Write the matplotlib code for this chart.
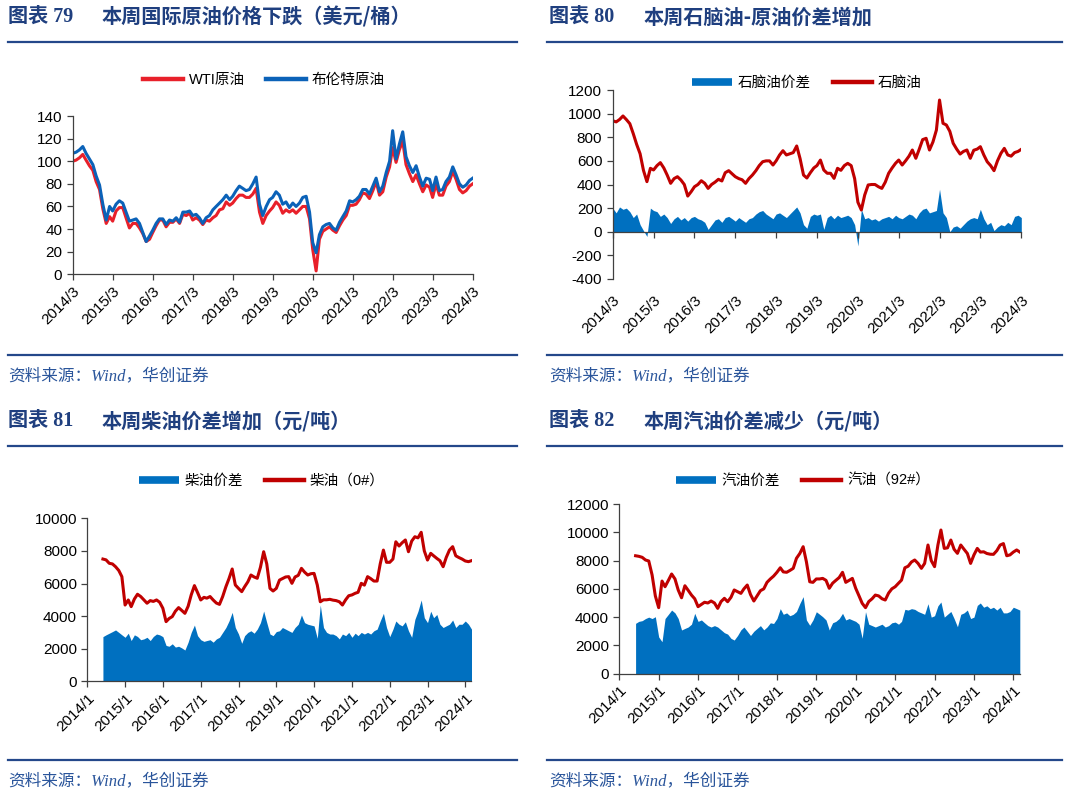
import matplotlib
matplotlib.use('Agg')
import matplotlib.pyplot as plt
from matplotlib.lines import Line2D
import pandas as pd

plt.rcParams['font.family'] = ['Liberation Sans', 'Noto Sans CJK SC']
plt.rcParams['axes.unicode_minus'] = False

# ---------------- data ----------------
# Chart 79: monthly, 2014/3 .. 2024/3 (USD/bbl)
crude_start, crude_end = '2014-03-01', '2024-03-01'
wti = [100, 101, 103, 106, 101, 96, 92, 82, 75, 58,
       45, 51, 47, 56, 59, 59, 50, 41, 45, 45, 41, 36,
       29, 31, 37, 43, 48, 48, 42, 46, 46, 49, 45, 53,
       52, 54, 48, 50, 48, 44, 48, 47, 50, 52, 57, 58,
       64, 61, 63, 67, 70, 70, 68, 68, 71, 76, 55, 45,
       52, 56, 59, 64, 61, 54, 57, 55, 57, 54, 57, 60,
       60, 49, 22, 3, 31, 38, 40, 42, 39, 37, 43, 48,
       52, 61, 61, 62, 66, 72, 71, 67, 74, 82, 70, 73,
       86, 95, 112, 99, 110, 118, 97, 89, 82, 88, 80, 73,
       79, 77, 68, 80, 70, 70, 78, 82, 91, 84, 75, 72,
       74, 78, 80]
brent = [107, 108, 110, 113, 107, 102, 97, 87, 79, 62,
         48, 60, 56, 62, 65, 63, 55, 47, 48, 49, 45, 37,
         29, 34, 39, 45, 49, 49, 44, 48, 47, 50, 46, 55,
         55, 56, 52, 53, 50, 45, 50, 52, 57, 60, 63, 66,
         70, 66, 69, 74, 78, 76, 74, 75, 80, 86, 62, 52,
         60, 66, 68, 73, 70, 62, 64, 59, 63, 60, 63, 68,
         69, 55, 28, 19, 35, 42, 44, 45, 41, 39, 46, 51,
         56, 65, 64, 66, 69, 75, 75, 71, 78, 85, 73, 78,
         90, 100, 127, 102, 115, 126, 104, 96, 90, 96, 86, 78,
         85, 84, 74, 86, 74, 75, 82, 86, 95, 88, 80, 77,
         79, 83, 85]

# Chart 80: monthly, 2014/3 .. 2024/3
naphtha = [940, 930, 950, 980, 950, 915, 830, 740, 660, 520,
           424, 537, 523, 560, 585, 540, 480, 410, 450, 466, 438, 400,
           302, 340, 381, 400, 432, 410, 367, 400, 420, 444, 430, 500,
           517, 490, 466, 450, 440, 410, 450, 480, 517, 560, 593, 600,
           600, 565, 600, 650, 686, 650, 660, 670, 726, 620, 480, 455,
           500, 540, 560, 607, 523, 495, 495, 452, 537, 520, 560, 579,
           560, 450, 250, 184, 311, 396, 400, 400, 381, 367, 420, 495,
           540, 580, 607, 565, 600, 640, 692, 622, 700, 780, 791, 692,
           760, 861, 1115, 918, 904, 850, 749, 700, 658, 680, 692, 622,
           690, 700, 720, 650, 593, 560, 517, 600, 664, 706, 650, 640,
           670, 680, 698]
naphtha_spread = [200, 160, 210, 190, 200, 170, 120, 150, 60, 10,
                  -40, 200, 180, 170, 130, 150, 120, 70, 110, 130, 100, 120,
                  90, 120, 130, 110, 100, 80, 20, 60, 100, 110, 80, 120,
                  130, 110, 90, 120, 100, 80, 110, 120, 150, 170, 180, 150,
                  130, 110, 150, 160, 140, 120, 150, 180, 210, 160, 60, 30,
                  130, 150, 140, 150, 20, 120, 140, 110, 140, 120, 130, 140,
                  120, 60, -120, 190, 110, 120, 100, 110, 90, 110, 120, 130,
                  110, 140, 120, 110, 130, 150, 140, 110, 160, 190, 200, 160,
                  170, 180, 360, 160, 120, 0, 40, 50, 30, 60, 90, 110,
                  120, 110, 190, 110, 60, 80, 10, 40, 60, 50, 80, 60,
                  130, 140, 120]

# Charts 81 / 82: monthly, 2014/6 .. 2024/3 (CNY/t)
fuel_start, fuel_end = '2014-06-01', '2024-03-01'
diesel = [7500, 7450, 7240, 7200, 7030, 6800, 6420,
          4680, 4990, 4580, 5050, 5340, 5200, 5000, 4790, 4950, 4900, 4990, 4850,
          4480, 3660, 3850, 3970, 4300, 4520, 4350, 4170, 4600, 5300, 5870, 5450,
          4990, 5150, 5100, 5200, 4990, 4800, 4720, 5200, 5800, 6300, 6890, 5910,
          5700, 5500, 5800, 6100, 6520, 6400, 6320, 7000, 7950, 7200, 5700, 5540,
          5700, 6210, 6300, 6400, 6420, 6010, 6400, 6500, 6930, 6700, 6520, 6600,
          6620, 5910, 4880, 5000, 5000, 5030, 4980, 4950, 4880, 4680, 5000, 5250,
          5300, 5400, 5460, 6010, 5900, 6420, 6300, 6150, 6150, 7200, 8050, 7300,
          7300, 7500, 8560, 8300, 8500, 8670, 7950, 8600, 8870, 8800, 9140, 8000,
          7440, 7850, 7700, 7540, 7400, 7030, 7600, 8050, 8260, 7700, 7590, 7500,
          7380, 7340, 7400]
diesel_spread = [2740, 2850, 2950, 3050, 3150, 3000, 2850,
                 2700, 2950, 2500, 2850, 2750, 2550, 2600, 2700, 2500, 2750, 2900, 2850,
                 2740, 2200, 2150, 2300, 2100, 2150, 2050, 1920, 2400, 3000, 3450, 2800,
                 2550, 2450, 2500, 2550, 2400, 2600, 2700, 3000, 3300, 3700, 4230, 3300,
                 2900, 2330, 2800, 3000, 3100, 2950, 3200, 3600, 4310, 3600, 2900, 2800,
                 3050, 3100, 3300, 3200, 3100, 3000, 3300, 3500, 4070, 3600, 3500, 3450,
                 3400, 2640, 4680, 3300, 3000, 2900, 2900, 2800, 2600, 2900, 2800, 3000,
                 2700, 2950, 2800, 3000, 2900, 3000, 2900, 3100, 3200, 3700, 4170, 3300,
                 2740, 3200, 3700, 3500, 3400, 3650, 3100, 2700, 3800, 4300, 4990, 3900,
                 3600, 4300, 3900, 4100, 3500, 3300, 3400, 3500, 3760, 3300, 3500, 3500,
                 3700, 3500, 3200]
gasoline = [8340, 8300, 8230, 8040, 7970, 6980, 5500,
            4670, 6550, 6150, 6600, 7050, 6700, 5920, 5370, 6220, 5900, 5560, 5300,
            4740, 4900, 5050, 5000, 5140, 5000, 4620, 5100, 5330, 5090, 5400, 5920,
            5800, 5680, 6000, 6270, 5600, 5140, 5500, 5870, 6000, 6460, 6700, 6900,
            7170, 7490, 7200, 7170, 7300, 7450, 8160, 8500, 8980, 7920, 6500, 6460,
            6700, 6700, 6740, 6600, 6040, 6400, 6600, 6800, 7170, 6460, 6600, 6740,
            6040, 5500, 4980, 4670, 5100, 5300, 5560, 5500, 5300, 5210, 5700, 6000,
            6150, 6400, 6620, 7490, 7600, 7900, 8040, 7800, 7450, 7800, 9100, 8000,
            7570, 9100, 10160, 8860, 8900, 9450, 8800, 8510, 9100, 8800, 8500, 7800,
            8400, 8860, 8600, 8620, 8500, 8450, 8440, 8700, 9100, 9200, 8340, 8400,
            8600, 8750, 8600]
gasoline_spread = [3560, 3700, 3750, 3900, 4000, 3900, 4030,
                   2600, 2260, 3900, 4200, 4500, 4300, 3900, 3090, 3200, 3300, 3500, 4270,
                   3700, 3800, 3600, 3400, 3300, 3400, 3300, 3100, 2900, 2800, 2500, 2380,
                   2700, 3100, 3300, 3000, 2700, 3000, 3200, 3400, 3100, 3300, 3600, 3550,
                   3900, 4600, 4200, 4300, 4100, 4200, 4400, 4960, 5450, 3800, 3420, 3800,
                   4380, 4200, 4030, 3800, 3090, 3600, 3700, 3900, 4270, 3800, 3900, 3800,
                   3700, 3500, 2510, 4380, 3500, 3400, 3300, 3400, 3500, 3300, 3400, 3600,
                   3650, 3500, 3700, 4550, 4500, 4600, 4550, 4400, 4300, 4200, 4950, 4000,
                   4100, 4800, 5070, 4000, 4200, 4400, 3900, 3320, 4200, 4300, 4500, 3900,
                   4000, 4830, 5000, 4700, 4800, 4600, 4700, 4500, 4700, 4300, 4300, 4400,
                   4700, 4600, 4500]

ticks_mar = ['2014/3', '2015/3', '2016/3', '2017/3', '2018/3', '2019/3',
             '2020/3', '2021/3', '2022/3', '2023/3', '2024/3']
ticks_jan = ['2014/1', '2015/1', '2016/1', '2017/1', '2018/1', '2019/1',
             '2020/1', '2021/1', '2022/1', '2023/1', '2024/1']

titles = [('图表 79', '本周国际原油价格下跌（美元/桶）'),
          ('图表 80', '本周石脑油-原油价差增加'),
          ('图表 81', '本周柴油价差增加（元/吨）'),
          ('图表 82', '本周汽油价差减少（元/吨）')]
source = '资料来源：Wind，华创证券'

# ---------------- style ----------------
W, H = 1066, 794
RED79 = '#E8202A'
BLUE79 = '#0B62B8'
DRED = '#C00000'
ABLUE = '#0070C0'
NAVY = '#1F3F7F'
LINEC = '#24488A'
SRC = '#2A559B'
AXC = '#404040'
CJK = ['Noto Sans CJK SC']
SERIF = ['Liberation Serif', 'Noto Sans CJK SC']

fig = plt.figure(figsize=(W / 100, H / 100), dpi=100)


def box(l, t, w, h):
    return [l / W, 1 - (t + h) / H, w / W, h / H]


def fx(x):
    return x / W


def fy(y):
    return 1 - y / H


# frame texts and rules
panels = [(0, 0), (540, 0), (0, 404), (540, 404)]
for (ox, oy), (num, ttl) in zip(panels, titles):
    x0 = 8 if ox == 0 else 549
    fig.text(fx(x0), fy(17 + oy), num, family=SERIF, weight='bold', color=NAVY,
             fontsize=14.5, va='center', ha='left')
    fig.text(fx(x0 + 94), fy(17 + oy), ttl, family=CJK, weight='bold', color=NAVY,
             fontsize=14.5, va='center', ha='left')
    xl, xr = (8, 517) if ox == 0 else (547, 1062)
    ytop = 42 if oy == 0 else 446
    ybot = 355 if oy == 0 else 760
    for yy in (ytop, ybot):
        fig.add_artist(Line2D([fx(xl), fx(xr)], [fy(yy), fy(yy)], color=LINEC, lw=1.6))
    fig.text(fx(x0), fy(ybot + 21), source, family=SERIF, style='italic', color=SRC,
             fontsize=12, va='center', ha='left')


def style_axes(ax, tick_labels, pad=3):
    for s in ('top', 'right'):
        ax.spines[s].set_visible(False)
    for s in ('left', 'bottom'):
        ax.spines[s].set_color(AXC)
        ax.spines[s].set_linewidth(0.9)
    pos = pd.to_datetime(tick_labels, format='%Y/%m')
    ax.set_xticks(pos)
    ax.set_xticklabels(tick_labels)
    ax.tick_params(axis='both', direction='out', length=4, width=0.9, color=AXC,
                   labelsize=11, labelcolor='black')
    ax.tick_params(axis='x', pad=pad)
    for lab in ax.get_xticklabels():
        lab.set_rotation(45)
        lab.set_ha('right')
        lab.set_va('top')
        lab.set_rotation_mode('anchor')


def legend(ax, handles, labels, cx, cy):
    ax.legend(handles, labels, loc='center', bbox_to_anchor=(fx(cx), fy(cy)),
              bbox_transform=fig.transFigure, ncol=2, frameon=False, fontsize=10.5,
              handlelength=2.7, handletextpad=0.4, columnspacing=1.5,
              borderaxespad=0, borderpad=0)


# ---------------- chart 79 ----------------
d79 = pd.date_range(crude_start, crude_end, freq='MS')
ax1 = fig.add_axes(box(72.7, 116, 400, 158.3))
ax1.plot(d79, wti, color=RED79, lw=2.2)
ax1.plot(d79, brent, color=BLUE79, lw=2.2)
ax1.set_ylim(0, 140)
ax1.set_yticks(range(0, 141, 20))
ax1.set_xlim(d79[0], d79[-1])
style_axes(ax1, ticks_mar)
legend(ax1, [Line2D([], [], color=RED79, lw=3.2), Line2D([], [], color=BLUE79, lw=3.2)],
       ['WTI原油', '布伦特原油'], 264, 80)

# ---------------- chart 80 ----------------
ax2 = fig.add_axes(box(612.7, 90, 408.6, 189))
ax2.fill_between(d79, naphtha_spread, 0, color=ABLUE, lw=0)
ax2.plot(d79, naphtha, color=DRED, lw=2.2)
ax2.set_ylim(-400, 1200)
ax2.set_yticks(range(-400, 1201, 200))
ax2.set_xlim(d79[0], d79[-1])
ax2.spines['bottom'].set_position(('data', 0))
style_axes(ax2, ticks_mar, pad=40)
legend(ax2, [Line2D([], [], color=ABLUE, lw=5.5, solid_capstyle='butt'),
             Line2D([], [], color=DRED, lw=3.2)],
       ['石脑油价差', '石脑油'], 807, 83)

# ---------------- chart 81 ----------------
dfu = pd.date_range(fuel_start, fuel_end, freq='MS')
ax3 = fig.add_axes(box(87.3, 518.3, 384.2, 163))
ax3.fill_between(dfu, diesel_spread, 0, color=ABLUE, lw=0)
ax3.plot(dfu, diesel, color=DRED, lw=2.2)
ax3.set_ylim(0, 10000)
ax3.set_yticks(range(0, 10001, 2000))
ax3.set_xlim(pd.Timestamp(ticks_jan[0].replace('/', '-') + '-01'), dfu[-1])
style_axes(ax3, ticks_jan)
legend(ax3, [Line2D([], [], color=ABLUE, lw=5.5, solid_capstyle='butt'),
             Line2D([], [], color=DRED, lw=3.2)],
       ['柴油价差', '柴油（0#）'], 262, 481)

# ---------------- chart 82 ----------------
ax4 = fig.add_axes(box(619.3, 504, 400.5, 169.7))
ax4.fill_between(dfu, gasoline_spread, 0, color=ABLUE, lw=0)
ax4.plot(dfu, gasoline, color=DRED, lw=2.2)
ax4.set_ylim(0, 12000)
ax4.set_yticks(range(0, 12001, 2000))
ax4.set_xlim(pd.Timestamp(ticks_jan[0].replace('/', '-') + '-01'), dfu[-1])
style_axes(ax4, ticks_jan)
legend(ax4, [Line2D([], [], color=ABLUE, lw=5.5, solid_capstyle='butt'),
             Line2D([], [], color=DRED, lw=3.2)],
       ['汽油价差', '汽油（92#）'], 803, 481)

fig.savefig('out.png', dpi=100)
